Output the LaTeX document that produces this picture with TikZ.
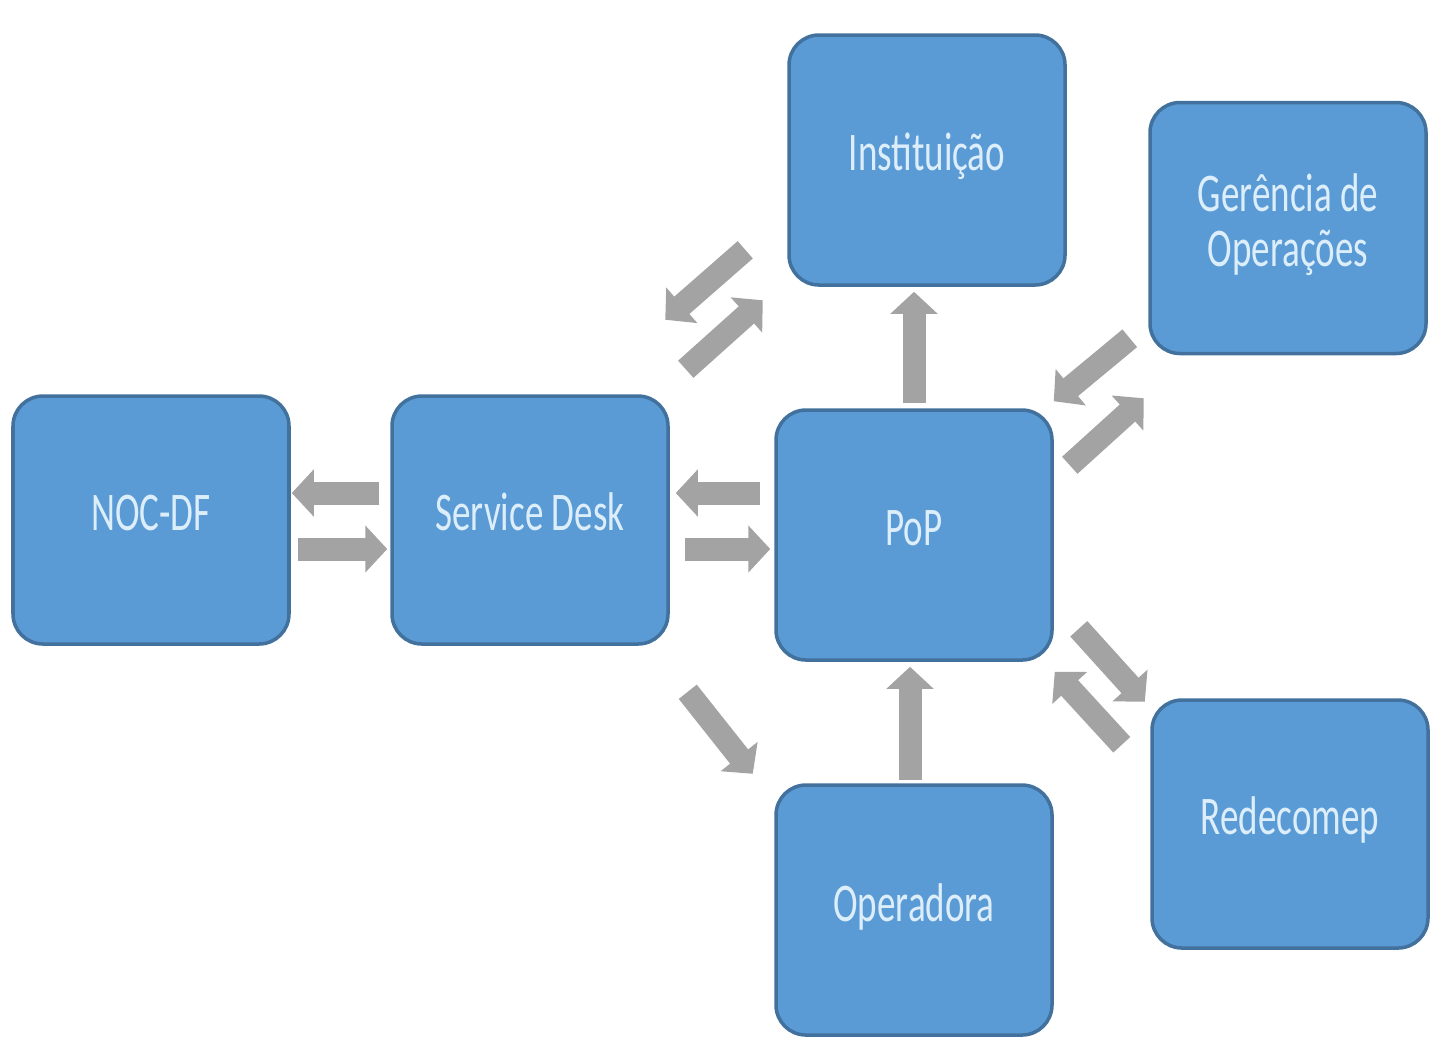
\documentclass[tikz,border=0pt]{standalone}
\usepackage{fontspec}
\usepackage{graphicx}
\setmainfont{Carlito}
\usetikzlibrary{arrows.meta,calc}

\definecolor{caixa}{HTML}{5B9BD5}
\definecolor{borda}{HTML}{41719C}
\definecolor{letra}{HTML}{DDEEFB}
\definecolor{seta}{HTML}{A3A3A3}

\newcommand{\rotulo}[1]{\scalebox{0.68}[1]{\begin{tabular}{@{}c@{}}#1\end{tabular}}}

\tikzset{
  bloco/.style={draw=borda, fill=caixa, line width=1pt, rounded corners=0.3cm,
    minimum width=2.76cm, minimum height=2.48cm, text=letra,
    font=\fontsize{15.5}{15.6}\selectfont},
  fluxo/.style={line width=0.23cm, color=seta,
    -{Triangle[length=0.22cm, width=0.46cm]}}
}

\begin{document}
\begin{tikzpicture}

    \useasboundingbox (0,0) rectangle (14.5,-10.38);

    % caixas
    \node[bloco] (noc) at (1.51,-5.20) {\rotulo{NOC-DF}};
    \node[bloco] (sd) at (5.30,-5.20) {\rotulo{Service Desk}};
    \node[bloco, minimum height=2.50cm] (pop) at (9.14,-5.35) {\rotulo{PoP}};
    \node[bloco, minimum height=2.50cm] (inst) at (9.27,-1.60) {\rotulo{Instituição}};
    \node[bloco, minimum height=2.51cm] (ger) at (12.88,-2.28) {\rotulo{Gerência de\\Operações}};
    \node[bloco] (rede) at (12.90,-8.24) {\rotulo{Redecomep}};
    \node[bloco, minimum height=2.50cm] (oper) at (9.14,-9.10) {\rotulo{Operadora}};

    % NOC-DF <-> Service Desk
    \draw[fluxo, shorten <=0.11cm, shorten >=0.01cm] (sd.west |- 0,-4.93) -- (noc.east |- 0,-4.93);
    \draw[fluxo, shorten <=0.07cm, shorten >=0.03cm] (noc.east |- 0,-5.49) -- (sd.west |- 0,-5.49);

    % Service Desk <-> PoP
    \draw[fluxo, shorten <=0.14cm, shorten >=0.06cm] (pop.west |- 0,-4.93) -- (sd.east |- 0,-4.93);
    \draw[fluxo, shorten <=0.15cm, shorten >=0.04cm] (sd.east |- 0,-5.49) -- (pop.west |- 0,-5.49);

    % PoP -> Instituicao, Operadora -> PoP
    \draw[fluxo, shorten <=0.05cm, shorten >=0.05cm] (pop.north) -- (pop.north |- inst.south);
    \draw[fluxo, shorten <=0.03cm, shorten >=0.05cm] ([xshift=-0.04cm]oper.north) -- ([xshift=-0.04cm]oper.north |- pop.south);

    % Instituicao <-> Service Desk
    \draw[fluxo] ($(inst.south west)+(-0.42,0.37)$) -- ($(inst.south west)+(-1.22,-0.33)$);
    \draw[fluxo] ($(sd.north east)+(0.16,0.25)$) -- ($(sd.north east)+(0.93,0.94)$);

    % Gerencia <-> PoP
    \draw[fluxo] ($(pop.north east)+(0.76,0.70)$) -- ($(pop.north east)+(0,0.07)$);
    \draw[fluxo] ($(pop.north east)+(0.16,-0.57)$) -- ($(pop.north east)+(0.90,0.10)$);

    % PoP <-> Redecomep
    \draw[fluxo] ($(pop.south east)+(0.25,0.33)$) -- ($(pop.south east)+(0.91,-0.40)$);
    \draw[fluxo] ($(pop.south east)+(0.68,-0.83)$) -- ($(pop.south east)+(0.01,-0.10)$);

    % Service Desk -> Operadora
    \draw[fluxo] ($(sd.south east)+(0.18,-0.46)$) -- ($(sd.south east)+(0.83,-1.28)$);

\end{tikzpicture}
\end{document}
